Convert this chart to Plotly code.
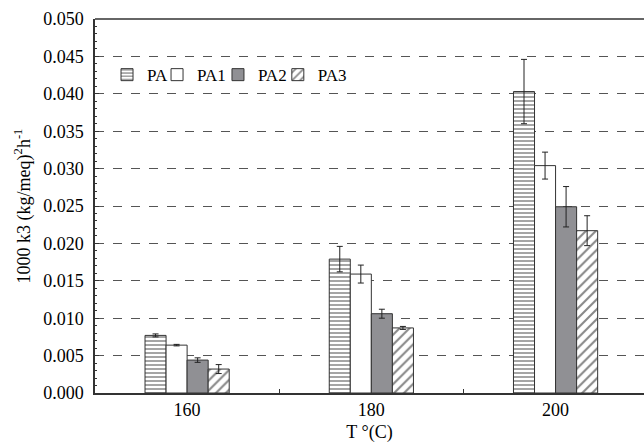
import plotly.graph_objects as go

categories = ["160", "180", "200"]
series_names = ["PA", "PA1", "PA2", "PA3"]
PA = [0.0077, 0.0179, 0.0403]
PA1 = [0.0064, 0.0159, 0.0304]
PA2 = [0.0044, 0.0106, 0.0249]
PA3 = [0.0032, 0.0087, 0.0217]
PA_err = [0.0002, 0.0017, 0.0043]
PA1_err = [0.0001, 0.0012, 0.0018]
PA2_err = [0.0003, 0.0006, 0.0027]
PA3_err = [0.0006, 0.0002, 0.0020]
y_ticks = [0.000, 0.005, 0.010, 0.015, 0.020, 0.025, 0.030, 0.035, 0.040, 0.045, 0.050]
legend_x = [0.0219, 0.113, 0.224, 0.333]

values = [PA, PA1, PA2, PA3]
errors = [PA_err, PA1_err, PA2_err, PA3_err]
styles = [
    dict(color="white", pattern=dict(shape="-", fgcolor="#111", bgcolor="white", size=4, solidity=0.38)),
    dict(color="white"),
    dict(color="#909094"),
    dict(color="white", pattern=dict(shape="/", fgcolor="#111", bgcolor="white", size=7, solidity=0.3)),
]

FONT = "Liberation Serif, Times New Roman, serif"
fig = go.Figure()
legend_ids = ["legend", "legend2", "legend3", "legend4"]
for name, v, e, st, lid in zip(series_names, values, errors, styles, legend_ids):
    fig.add_trace(go.Bar(
        x=categories, y=v, name=name, legend=lid,
        marker=dict(line=dict(color="#333", width=1), **st),
        error_y=dict(type="data", array=e, color="#222", thickness=1, width=3),
    ))

legend_common = dict(orientation="h", y=0.85, xanchor="left", yanchor="middle",
                     bgcolor="rgba(0,0,0,0)", font=dict(size=17, family=FONT),
                     itemwidth=30)
fig.update_layout(
    width=644, height=445,
    margin=dict(l=95, r=0, t=19, b=52),
    paper_bgcolor="white", plot_bgcolor="white",
    barmode="group", bargap=0.543, bargroupgap=0,
    font=dict(family=FONT, size=18, color="black"),
    showlegend=True,
    legend=dict(x=legend_x[0], **legend_common),
    legend2=dict(x=legend_x[1], **legend_common),
    legend3=dict(x=legend_x[2], **legend_common),
    legend4=dict(x=legend_x[3], **legend_common),
    xaxis=dict(
        type="category", range=[-0.5, 2.48],
        showline=True, linecolor="#333", linewidth=1.5, mirror=False,
        ticks="inside", tickson="boundaries", ticklen=4, tickcolor="#333",
        showgrid=False, tickfont=dict(size=18, family=FONT),
        title=dict(text="T °(C)", font=dict(size=18, family=FONT), standoff=6),
        automargin=False,
    ),
    yaxis=dict(
        range=[0, 0.05], tickvals=y_ticks, ticktext=[f"{t:.3f}" for t in y_ticks],
        showline=True, linecolor="#333", linewidth=1.5, mirror=False,
        ticks="inside", ticklen=4, tickcolor="#333", ticklabelstandoff=6,
        minor=dict(dtick=0.001, ticks="inside", ticklen=2, tickcolor="#333", showgrid=False),
        showgrid=True, gridcolor="#555", griddash="dash", gridwidth=1,
        zeroline=False,
        tickfont=dict(size=18, family=FONT),
        title=dict(text="1000 k3 (kg/meq)<sup>2</sup>h<sup>-1</sup>", font=dict(size=18, family=FONT), standoff=8),
        automargin=False,
    ),
    shapes=[dict(type="line", xref="paper", yref="paper", x0=0, x1=1, y0=1, y1=1,
                 line=dict(color="#333", width=1.5))],
)

fig.write_html("out.html", config={"displayModeBar": False},
               post_script="document.body.style.margin='0';document.body.style.overflow='hidden';")
